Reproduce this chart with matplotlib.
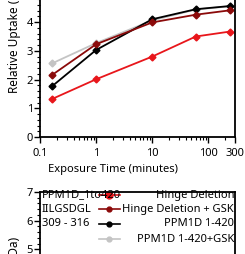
import matplotlib
matplotlib.use("Agg")
import matplotlib.pyplot as plt
from matplotlib.ticker import MultipleLocator, LogLocator, FixedLocator, NullFormatter

plt.rcParams['font.family'] = ['Noto Sans', 'DejaVu Sans']

# exposure times (minutes)
times = [0.167, 1, 10, 60, 240]

hinge = [1.33, 2.01, 2.80, 3.50, 3.67]
hinge_gsk = [2.17, 3.23, 3.99, 4.26, 4.41]
ppm = [1.78, 3.03, 4.10, 4.45, 4.56]
ppm_gsk = [2.57, 3.27, 4.06, 4.44, 4.55]

labels = ["Hinge Deletion", "Hinge Deletion + GSK", "PPM1D 1-420", "PPM1D 1-420+GSK"]
colors = ["#e8161b", "#8b0a0a", "#000000", "#c4c4c4"]
series = [hinge, hinge_gsk, ppm, ppm_gsk]

peptide_info = ["PPM1D_1to420", "IILGSDGL", "309 - 316"]

xticks = [0.1, 1, 10, 100, 300]
xticklabels = ["0.1", "1", "10", "100", "300"]

W, H = 245, 254
fig = plt.figure(figsize=(W / 100, H / 100), dpi=100)

def style(ax):
    ax.set_xscale("log")
    ax.set_xlim(0.1, 300)
    ax.set_ylim(0, 7)
    ax.xaxis.set_major_locator(FixedLocator(xticks))
    ax.xaxis.set_minor_locator(LogLocator(base=10, subs=range(2, 10)))
    ax.xaxis.set_minor_formatter(NullFormatter())
    ax.yaxis.set_major_locator(MultipleLocator(1))
    ax.yaxis.set_minor_locator(MultipleLocator(0.2))
    ax.tick_params(which="major", length=4, width=1, labelsize=8, pad=1, colors="black")
    ax.tick_params(which="minor", length=2, width=0.8)
    ax.tick_params(axis="x", which="major", pad=4)
    for s in ax.spines.values():
        s.set_linewidth(1.3)
    ax.set_ylabel("Relative Uptake (Da)", fontsize=8.5, labelpad=4)

ax = fig.add_axes([40 / W, (H - 137) / H, 195 / W, 201 / H])
style(ax)
ax.set_xticklabels(xticklabels)
ax.set_xlabel("Exposure Time (minutes)", fontsize=8)
ax.xaxis.set_label_coords((113 - 40) / 195, -(164 - 137) / 201)

for ys, c in list(zip(series, colors))[::-1]:
    ax.plot(times, ys, color=c, lw=1.3, marker="D", ms=3.5, mec=c, mfc=c)

ax2 = fig.add_axes([40 / W, (H - 393) / H, 195 / W, 201 / H])
style(ax2)
ax2.set_xticklabels([])

rows_y = [0.985, 0.915, 0.841, 0.766]
for i, txt in enumerate(peptide_info):
    ax2.text(0.008, rows_y[i], txt, transform=ax2.transAxes, fontsize=8,
             ha="left", va="center")
for i, (lab, c) in enumerate(zip(labels, colors)):
    ax2.plot([0.30, 0.41], [rows_y[i]] * 2, transform=ax2.transAxes, color=c, lw=1.2, clip_on=False)
    ax2.plot([0.355], [rows_y[i]], transform=ax2.transAxes, color=c, marker="o", ms=3.5 if i else 5)
    ax2.text(0.995, rows_y[i], lab, transform=ax2.transAxes, fontsize=8,
             ha="right", va="center")

fig.savefig("out.png", dpi=100)
